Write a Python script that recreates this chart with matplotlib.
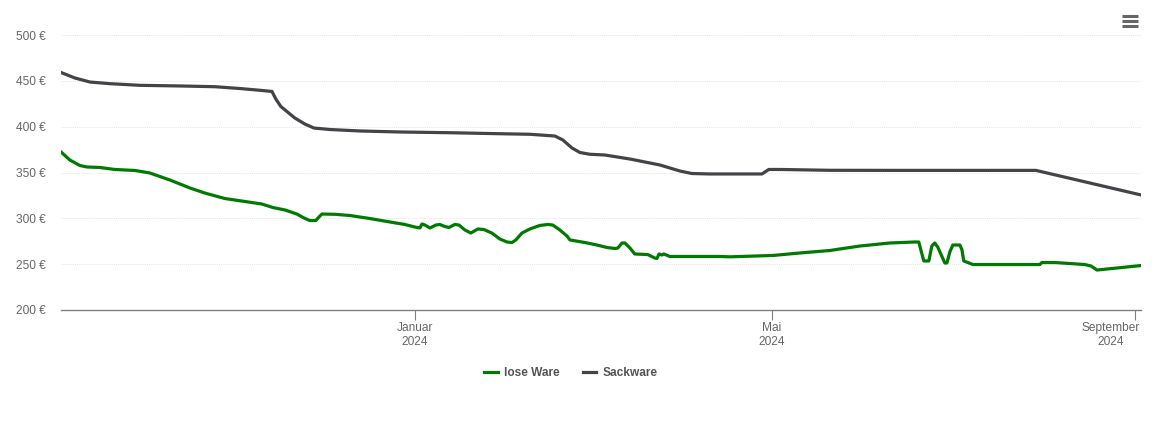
import matplotlib
matplotlib.use("Agg")
import matplotlib.pyplot as plt
from matplotlib.lines import Line2D
from matplotlib.transforms import ScaledTranslation

plt.rcParams['font.family'] = ['Liberation Sans', 'DejaVu Sans']

# days since 2024-01-01
lose_days = [-119.6, -116.6, -113.2, -110.8, -106.5, -101.4, -94.6, -89.6, -82.8, -76, -71, -64.2, -57.5,
             -51.7, -48, -43.9, -39.9, -37.5, -35.5, -33.5, -32.4, -31.4, -27, -22, -15.2, -8.4, -3.4,
             0, 1.7, 2.4, 3.4, 5.1, 7.1, 8.4, 10.1, 11.5, 13.5, 14.9, 16.9, 18.9, 21.3, 23.3, 26, 28.7,
             31.1, 32.8, 34.1, 36.2, 38.9, 42.2, 44.9, 46.6, 49, 51.4, 52.4, 57.5, 61.5, 64.9, 67.6, 68.6,
             70, 71, 72.7, 74.3, 78.7, 81.1, 81.8, 82.5, 83.5, 84.1, 86.2, 89.6, 103.1, 106.5, 121, 130.1,
             140.2, 150.4, 160.5, 169, 170.3, 171, 172, 173.7, 174.7, 175.7, 176.7, 179.1, 179.8, 180.8,
             181.8, 184.2, 184.9, 185.5, 188.6, 211.2, 211.9, 216.3, 226.4, 228.5, 230.5, 245.4]
lose_price = [372.4, 363.6, 357.6, 356, 355.5, 353.3, 352.2, 349.5, 341.8, 333.1, 327.6, 321.6, 318.4,
              315.6, 311.8, 309.1, 304.7, 300.4, 297.6, 297.6, 301.5, 304.7, 304.4, 303.1, 299.8, 296, 293.3,
              290.5, 289.5, 293.8, 292.7, 289.5, 292.7, 293.3, 291.1, 290, 293.3, 292.7, 287.3, 284, 288.4, 287.8, 284, 277.5,
              274.2, 273.6, 276.4, 284, 288.4, 292.2, 293.3, 292.7, 287.3, 280.7, 276.4, 273.6, 270.9, 268.2, 267.1, 267.6,
              273.1, 273.1, 267.6, 261.1, 260.5, 256.7, 256.2, 261.1, 260, 261.1, 258.4, 258.4, 258.4, 258, 259.5, 262.2,
              264.9, 269.8, 273.1, 274.2, 274.2, 265.5, 253.5, 253.5, 269.8, 273.1, 268.7, 251.3, 251.3, 263.3,
              270.9, 270.9, 265.5, 253.5, 249.6, 249.6, 251.8, 251.8, 249.6, 248, 243.6, 248.5]

sack_days = [-119.6, -114.9, -109.8, -103.1, -92.9, -79.4, -67.6, -59.1, -52.4, -48.3, -47, -45.3, -40.6,
             -37.2, -34.1, -28.7, -18.6, -5.1, 11.8, 28.7, 38.9, 47.3, 50, 53.1, 55.8, 59.1, 64.2, 72.7,
             82.8, 89.6, 93.6, 99.7, 117.3, 119.6, 123.4, 140.2, 163.9, 209.9, 245.4]
sack_price = [459.1, 453.1, 448.7, 446.9, 445.1, 444.4, 443.6, 441.6, 439.7, 438.4, 430.2, 422, 409.5,
              402.9, 398.5, 396.9, 395.3, 394.2, 393.4, 392.3, 391.7, 389.8, 385.5, 376.7, 371.8, 369.9, 369.1, 364.7,
              358.2, 351.6, 348.9, 348.4, 348.4, 353.3, 353.3, 352.4, 352.3, 352.3, 325.5]

y_ticks = [200, 250, 300, 350, 400, 450, 500]
x_ticks = [0, 120.7, 243.4]
x_labels = ["Januar\n2024", "Mai\n2024", "September\n2024"]

W, H = 1152, 438
fig = plt.figure(figsize=(W / 100, H / 100), dpi=100)
ax = fig.add_axes([61 / W, 1 - 310 / H, 1080 / W, 275 / H])

ax.plot(lose_days, lose_price, color="#007a00", lw=2.3, label="lose Ware", solid_joinstyle="round")
ax.plot(sack_days, sack_price, color="#434348", lw=2.3, label="Sackware", solid_joinstyle="round")

ax.set_xlim(-119.6, 245.4)
ax.set_ylim(200, 500)

for s in ["top", "left", "right"]:
    ax.spines[s].set_visible(False)
ax.spines["bottom"].set_color("#808080")
ax.spines["bottom"].set_linewidth(1)

ax.set_yticks(y_ticks)
ax.set_yticklabels([f"{v} €" for v in y_ticks])
ax.tick_params(axis="y", length=0, pad=11, labelsize=8.6, labelcolor="#666666")
ax.grid(axis="y", color="#e6e6e6", lw=0.7, linestyle=(0, (1, 1)))
ax.set_axisbelow(True)

ax.set_xticks(x_ticks)
ax.set_xticklabels(x_labels, linespacing=1.25)
ax.tick_params(axis="x", length=7, width=0.8, color="#808080", pad=1.5, labelsize=8.6, labelcolor="#666666")
# last label is pushed left so it stays inside the chart
last = ax.get_xticklabels()[-1]
last.set_transform(last.get_transform() + ScaledTranslation(-24 / 100, 0, fig.dpi_scale_trans))

fig.legend(loc="center", bbox_to_anchor=(571 / W, 1 - 373 / H), ncol=2, frameon=False,
           handlelength=1.15, handletextpad=0.55, columnspacing=1.9,
           labelcolor="#555555", prop={"weight": "bold", "size": 8.6})

# burger menu icon
for py in (16, 21, 26):
    fig.add_artist(Line2D([1122 / W, 1138 / W], [1 - py / H, 1 - py / H], color="#666666", lw=2.2,
                          solid_capstyle="butt"))

fig.savefig("out.png", dpi=100)
